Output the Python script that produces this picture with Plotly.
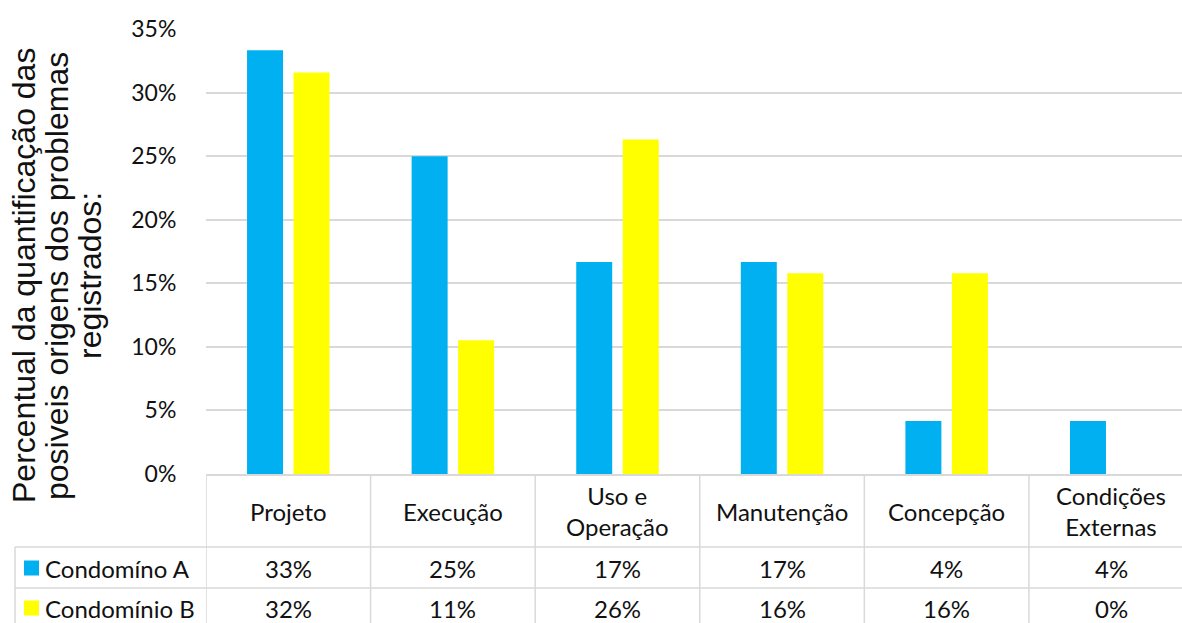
import plotly.graph_objects as go

categories = ["Projeto", "Execução", "Uso e<br>Operação", "Manutenção", "Concepção", "Condições<br>Externas"]
series_names = ["Condomíno A", "Condomínio B"]
condominio_a = [8/24, 6/24, 4/24, 4/24, 1/24, 1/24]
condominio_b = [6/19, 2/19, 5/19, 3/19, 3/19, 0.0]
y_tick_vals = [0, 0.05, 0.10, 0.15, 0.20, 0.25, 0.30, 0.35]
title_lines = ["Percentual da quantificação das", "posiveis origens dos problemas", "registrados:"]

colors = ["#00B0F0", "#FFFF00"]
W, H = 1182, 623
ML, MR, MT, MB = 206, 0, 29, 149
PW, PH = W - ML - MR, H - MT - MB
XR = [-0.5, 5.43]
GRID = "#d9d9d9"
TFONT = dict(family="Lato, 'Open Sans', sans-serif", size=24, color="#111111")

def px_to_px(px):
    return (px - ML) / PW

def py_to_py(py):
    return (H - MB - py) / PH

idx = list(range(len(categories)))
fig = go.Figure()
for name, vals, c in zip(series_names, [condominio_a, condominio_b], colors):
    fig.add_trace(go.Bar(x=idx, y=vals, name=name, marker=dict(color=c, line=dict(width=0)),
                         hoverinfo="y"))

fig.update_layout(
    width=W, height=H, margin=dict(l=ML, r=MR, t=MT, b=MB),
    plot_bgcolor="white", paper_bgcolor="white",
    barmode="group", bargap=0.435, bargroupgap=0.226,
    showlegend=False,
    xaxis=dict(range=XR, showticklabels=False, showgrid=False, zeroline=False,
               showline=True, linecolor=GRID, linewidth=1.5, ticks=""),
    yaxis=dict(range=[0, 0.35], tickvals=y_tick_vals, tickformat=".0%",
               showgrid=True, gridcolor=GRID, gridwidth=1.5, zeroline=False,
               showline=False, ticks="outside", ticklen=24, tickcolor="rgba(0,0,0,0)",
               tickfont=dict(TFONT, size=23)),
)

shapes = []
annos = []
line = dict(color=GRID, width=1.5)
y_top = py_to_py(474)
y_r1 = py_to_py(547)
y_r2 = py_to_py(588)
y_bot = py_to_py(640)
# vertical column borders under the axis
for i in idx:
    shapes.append(dict(type="line", xref="x", yref="paper", x0=i - 0.5, x1=i - 0.5,
                       y0=y_top, y1=y_bot, line=line))
# horizontal row borders
x_left = px_to_px(15)
for yy in [y_r1, y_r2]:
    shapes.append(dict(type="line", xref="paper", yref="paper", x0=x_left, x1=1.0,
                       y0=yy, y1=yy, line=line))
shapes.append(dict(type="line", xref="paper", yref="paper", x0=x_left, x1=x_left,
                   y0=y_r1, y1=y_bot, line=line))

# header cells
for i, cat in zip(idx, categories):
    annos.append(dict(xref="x", yref="paper", x=i, y=py_to_py(511), text=cat,
                      showarrow=False, xanchor="center", yanchor="middle", font=TFONT))
# value rows
row_y = [py_to_py(568), py_to_py(608)]
for r, (name, vals, c) in enumerate(zip(series_names, [condominio_a, condominio_b], colors)):
    for i, v in zip(idx, vals):
        annos.append(dict(xref="x", yref="paper", x=i, y=row_y[r], text=f"{v:.0%}",
                          showarrow=False, xanchor="center", yanchor="middle", font=TFONT))
    annos.append(dict(xref="paper", yref="paper", x=px_to_px(43), y=row_y[r], text=name,
                      showarrow=False, xanchor="left", yanchor="middle", font=TFONT))
    shapes.append(dict(type="rect", xref="paper", yref="paper",
                       x0=px_to_px(24), x1=px_to_px(39),
                       y0=row_y[r] - 7.5 / PH, y1=row_y[r] + 7.5 / PH,
                       fillcolor=c, line=dict(width=0)))

# y-axis title (three rotated lines)
title_x = [24, 57, 90]
for t, xp in zip(title_lines, title_x):
    annos.append(dict(xref="paper", yref="paper", x=px_to_px(xp), y=py_to_py(276), text=t,
                      textangle=-90, showarrow=False, xanchor="center", yanchor="middle",
                      font=dict(family="Liberation Sans, Arial, sans-serif", size=32, color="#111111")))

fig.update_layout(shapes=shapes, annotations=annos)
fig.write_html("out.html", config={"displayModeBar": False},
               post_script="document.body.style.margin='0px';document.body.style.overflow='hidden';")
